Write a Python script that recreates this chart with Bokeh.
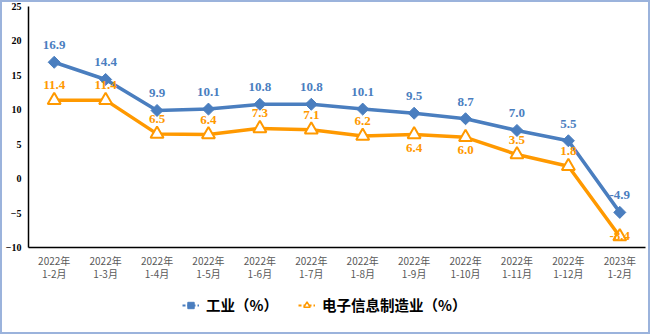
import math
from bokeh.plotting import figure
from bokeh.layouts import column
from bokeh.models import ColumnDataSource, FixedTicker, Legend, LegendItem, Range1d
from bokeh.core.properties import value
from bokeh.embed import file_html
from bokeh.resources import INLINE

# ---- data ----
categories = ["2022年\n1-2月", "2022年\n1-3月", "2022年\n1-4月", "2022年\n1-5月",
              "2022年\n1-6月", "2022年\n1-7月", "2022年\n1-8月", "2022年\n1-9月",
              "2022年\n1-10月", "2022年\n1-11月", "2022年\n1-12月", "2023年\n1-2月"]
industry = [16.9, 14.4, 9.9, 10.1, 10.8, 10.8, 10.1, 9.5, 8.7, 7.0, 5.5, -4.9]
electronics = [11.4, 11.4, 6.5, 6.4, 7.3, 7.1, 6.2, 6.4, 6.0, 3.5, 1.8, -8.4]
y_ticks = [-10, -5, 0, 5, 10, 15, 20, 25]
series_names = ["工业（%）", "电子信息制造业（%）"]

# label placement (style): pixel offsets of the data labels
industry_label_dy = [-17] * 12
electronics_label_dy = [-15, -15, -15, -15, -15, -15, -15, 13, 13, -15, -15, 0]

BLUE = "#4A7EBF"
ORANGE = "#FF9900"

p = figure(width=646, height=281, x_range=categories, y_range=Range1d(-10, 25),
           output_backend="svg", toolbar_location=None,
           min_border_left=25, min_border_right=3, min_border_top=4, min_border_bottom=33)
p.outline_line_color = None
p.xgrid.grid_line_color = None
p.ygrid.grid_line_color = None
p.x_range.range_padding = 0

# axes
p.yaxis.ticker = FixedTicker(ticks=y_ticks)
p.yaxis.axis_line_color = "black"
p.yaxis.axis_line_width = 1.5
p.yaxis.major_tick_line_color = None
p.yaxis.minor_tick_line_color = None
p.yaxis.major_tick_out = 0
p.yaxis.major_tick_in = 0
p.yaxis.minor_tick_out = 0
p.yaxis.major_label_text_font = "Liberation Serif"
p.yaxis.major_label_text_font_style = "bold"
p.yaxis.major_label_text_font_size = "10px"
p.yaxis.major_label_text_color = "black"
p.yaxis.major_label_standoff = 7

p.xaxis.axis_line_color = "black"
p.xaxis.axis_line_width = 1.5
p.xaxis.major_tick_line_color = None
p.xaxis.minor_tick_line_color = None
p.xaxis.major_tick_out = 0
p.xaxis.major_tick_in = 0
p.xaxis.minor_tick_out = 0
p.xaxis.major_label_text_font = "Noto Sans CJK SC"
p.xaxis.major_label_text_font_size = "10px"
p.xaxis.major_label_text_color = "#595959"
p.xaxis.major_label_text_line_height = 0.88
p.xaxis.major_label_standoff = 5

src = ColumnDataSource(dict(x=categories, ind=industry, ele=electronics,
                            ind_lbl=[f"{v:.1f}" for v in industry],
                            ele_lbl=[f"{v:.1f}" for v in electronics],
                            ind_dy=industry_label_dy, ele_dy=electronics_label_dy))

p.line("x", "ele", source=src, line_color=ORANGE, line_width=3.5)
p.scatter("x", "ele", source=src, marker="triangle", size=13, fill_color="white",
          line_color=ORANGE, line_width=2)
p.line("x", "ind", source=src, line_color=BLUE, line_width=3.5)
p.scatter("x", "ind", source=src, marker="square", angle=math.pi / 4, size=8.5,
          fill_color=BLUE, line_color=BLUE, line_width=1)

p.text("x", "ind", text="ind_lbl", source=src, y_offset="ind_dy", text_align="center",
       text_baseline="middle", text_color=BLUE, text_font=value("Liberation Serif"),
       text_font_style="bold", text_font_size="13px")
p.text("x", "ele", text="ele_lbl", source=src, y_offset="ele_dy", text_align="center",
       text_baseline="middle", text_color=ORANGE, text_font=value("Liberation Serif"),
       text_font_style="bold", text_font_size="13px")

# ---- legend strip (separate small figure below the chart) ----
pl = figure(width=646, height=49, x_range=Range1d(0, 1), y_range=Range1d(0, 1),
            output_backend="svg", toolbar_location=None,
            min_border_left=0, min_border_right=0, min_border_top=0, min_border_bottom=0)
pl.axis.visible = False
pl.xgrid.visible = False
pl.ygrid.visible = False
pl.outline_line_color = None

dummy = ColumnDataSource(dict(x=[float("nan")], y=[float("nan")]))
l1 = pl.line("x", "y", source=dummy, line_color=BLUE, line_width=2, line_dash="3 2")
m1 = pl.scatter("x", "y", source=dummy, marker="square", angle=math.pi / 4, size=6,
                fill_color=BLUE, line_color=BLUE)
l2 = pl.line("x", "y", source=dummy, line_color=ORANGE, line_width=2, line_dash="3 2")
m2 = pl.scatter("x", "y", source=dummy, marker="triangle", size=8, fill_color="white",
                line_color=ORANGE, line_width=1.5)

legend = Legend(items=[LegendItem(label=series_names[0], renderers=[l1, m1]),
                       LegendItem(label=series_names[1], renderers=[l2, m2])],
                orientation="horizontal", location=(154, 17),
                label_text_font="Noto Sans CJK SC", label_text_font_style="bold",
                label_text_font_size="14.5px", label_text_color="black",
                glyph_width=17, glyph_height=16, label_standoff=7, spacing=20,
                padding=0, margin=0, border_line_color=None, background_fill_alpha=0)
pl.add_layout(legend, "center")

layout = column(p, pl, spacing=0)
layout.styles = {"border": "2px solid #9BB3DC"}

open("out.html", "w").write(file_html(layout, INLINE))
